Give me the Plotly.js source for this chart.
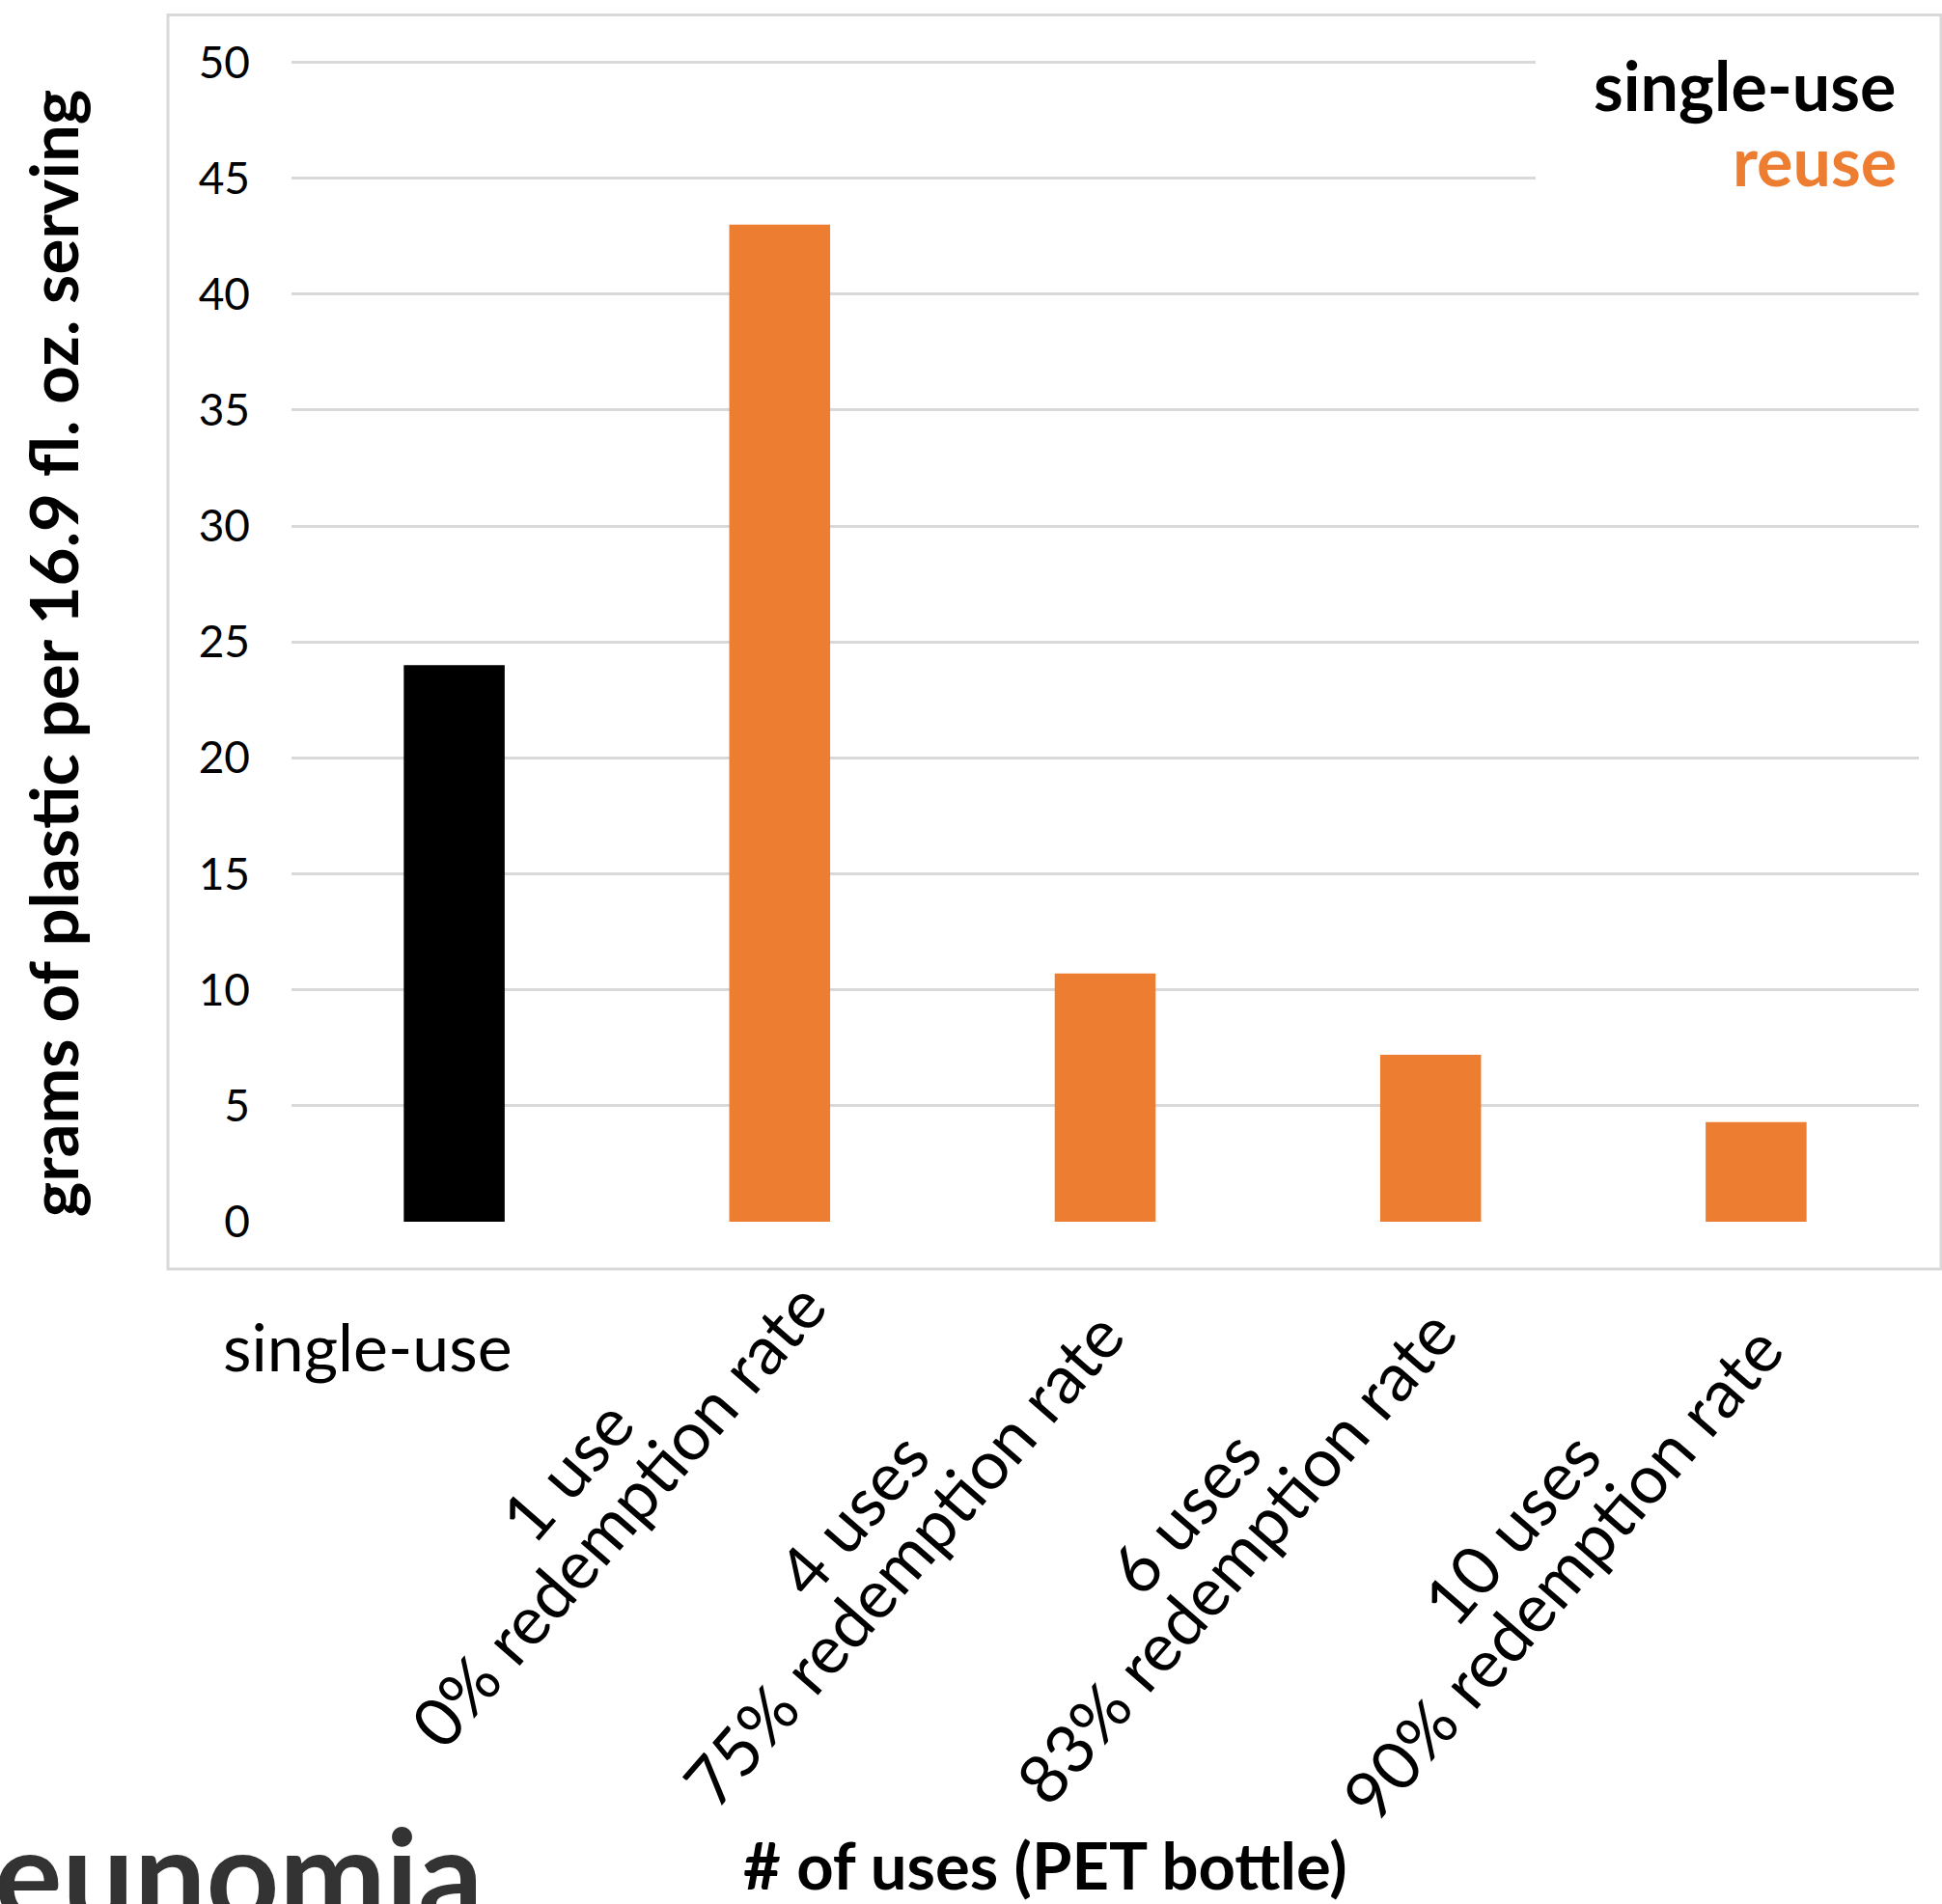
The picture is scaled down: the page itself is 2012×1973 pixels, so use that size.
<!DOCTYPE html>
<html>
<head>
<meta charset="utf-8">
<script src="https://cdn.plot.ly/plotly-3.0.1.min.js"></script>
<style>
  html, body { margin: 0; padding: 0; background: #ffffff; }
  #chart { width: 2012px; height: 1973px; }
</style>
</head>
<body>
<div id="chart"></div>
<script>
// ---- data ----
const categories = ["single-use", "1 use", "4 uses", "6 uses", "10 uses"];
const redemptionRates = ["", "0% redemption rate", "75% redemption rate", "83% redemption rate", "90% redemption rate"];
const singleUseValues = [24, null, null, null, null];
const reuseValues = [null, 43, 10.7, 7.2, 4.3];
const seriesNames = ["single-use", "reuse"];
const yTitle = "grams of plastic per 16.9 fl. oz. serving";
const xTitle = "# of uses (PET bottle)";
const logoText = "eunomia";

// ---- layout helpers (pixel geometry of the plot area) ----
const FIG_W = 2012, FIG_H = 1973;
const Y_MAX = 50.1;                 // tiny headroom so the 50 gridline is drawn
const PB = 1266, PX_PER_UNIT = 1202 / 50;
const PT = PB - Y_MAX * PX_PER_UNIT;
const PL = 302, PR = 1988;
const W = PR - PL, H = PB - PT;
const px = x => (x - PL) / W;
const py = y => (PB - y) / H;

const BLACK = "#000000";
const ORANGE = "#ED7D31";
const GRID = "#d9d9d9";
const FONT = "Lato, 'Open Sans', sans-serif";

// rotated label geometry
const LABEL_ANGLE = 49;
const labelOffsets = [null, [-195, 280], [-236, 325], [-229, 323], [-228, 340]];
const LINE_HALF = 35;
const rad = LABEL_ANGLE * Math.PI / 180;
const ox = LINE_HALF * Math.sin(rad), oy = LINE_HALF * Math.cos(rad);

const traces = [
  {
    type: "bar", name: seriesNames[0], x: categories, y: singleUseValues,
    marker: { color: BLACK }, width: 0.31, hoverinfo: "x+y"
  },
  {
    type: "bar", name: seriesNames[1], x: categories, y: reuseValues,
    marker: { color: ORANGE }, width: 0.31, hoverinfo: "x+y"
  }
];

const annotations = [];
// first category label (horizontal)
annotations.push({
  xref: "x", yref: "paper", x: 0, y: 0, xshift: -90, yshift: -128,
  text: categories[0], showarrow: false, xanchor: "center", yanchor: "middle",
  font: { family: FONT, size: 68, color: BLACK }
});
// rotated two-line labels
for (let i = 1; i < categories.length; i++) {
  const [dx, dy] = labelOffsets[i];
  annotations.push({
    xref: "x", yref: "paper", x: i, y: 0,
    xshift: dx - ox, yshift: -(dy - oy),
    text: categories[i], textangle: -LABEL_ANGLE, showarrow: false,
    xanchor: "center", yanchor: "middle",
    font: { family: FONT, size: 70, color: BLACK }
  });
  annotations.push({
    xref: "x", yref: "paper", x: i, y: 0,
    xshift: dx + ox, yshift: -(dy + oy),
    text: redemptionRates[i], textangle: -LABEL_ANGLE, showarrow: false,
    xanchor: "center", yanchor: "middle",
    font: { family: FONT, size: 70, color: BLACK }
  });
}
// legend texts
annotations.push({
  xref: "paper", yref: "paper", x: px(1967), y: py(88), xanchor: "right", yanchor: "middle",
  text: "<b>" + seriesNames[0] + "</b>", showarrow: false,
  font: { family: FONT, size: 70, color: BLACK }
});
annotations.push({
  xref: "paper", yref: "paper", x: px(1967), y: py(166), xanchor: "right", yanchor: "middle",
  text: "<b>" + seriesNames[1] + "</b>", showarrow: false,
  font: { family: FONT, size: 70, color: ORANGE }
});
// y title
annotations.push({
  xref: "paper", yref: "paper", x: px(54), y: py(677), xanchor: "center", yanchor: "middle",
  text: "<b>" + yTitle + "</b>", textangle: -90, showarrow: false,
  font: { family: FONT, size: 69, color: BLACK }
});
// x title
annotations.push({
  xref: "paper", yref: "paper", x: px(1083), y: py(1932), xanchor: "center", yanchor: "middle",
  text: "<b>" + xTitle + "</b>", showarrow: false,
  font: { family: FONT, size: 67, color: BLACK }
});
// logo
annotations.push({
  xref: "paper", yref: "paper", x: px(-8), y: py(1940), xanchor: "left", yanchor: "middle",
  text: "<b>" + logoText + "</b>", showarrow: false,
  font: { family: FONT, size: 132, color: "#333333" }
});

const layout = {
  width: FIG_W, height: FIG_H,
  margin: { l: PL, r: FIG_W - PR, t: PT, b: FIG_H - PB, pad: 0 },
  paper_bgcolor: "#ffffff", plot_bgcolor: "#ffffff",
  showlegend: false,
  barmode: "overlay",
  xaxis: {
    type: "category", categoryorder: "array", categoryarray: categories,
    range: [-0.5, 4.5], showticklabels: false, ticks: "",
    showgrid: false, zeroline: false, showline: false, fixedrange: true
  },
  yaxis: {
    range: [0, Y_MAX], dtick: 5, tick0: 0,
    showgrid: true, gridcolor: GRID, gridwidth: 3,
    zeroline: false, showline: false, ticks: "",
    ticklabelstandoff: 42,
    tickfont: { family: FONT, size: 46, color: BLACK }, fixedrange: true
  },
  shapes: [
    // chart frame
    { type: "rect", xref: "paper", yref: "paper",
      x0: px(174), x1: px(2011), y0: py(1315), y1: py(15),
      line: { color: GRID, width: 3 }, fillcolor: "rgba(0,0,0,0)", layer: "below" },
    // legend box background (covers gridlines)
    { type: "rect", xref: "paper", yref: "paper",
      x0: px(1591), x1: px(2008), y0: py(215), y1: py(40),
      line: { width: 0 }, fillcolor: "#ffffff", layer: "above" }
  ],
  annotations: annotations
};

Plotly.newPlot("chart", traces, layout, { displayModeBar: false, staticPlot: true });
</script>
</body>
</html>
